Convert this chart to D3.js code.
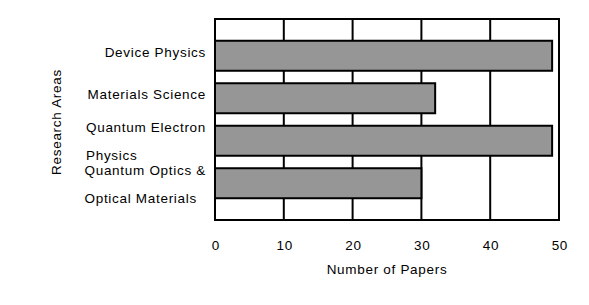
<!DOCTYPE html>
<html>
<head>
<meta charset="utf-8">
<script src="https://cdn.jsdelivr.net/npm/d3@7"></script>
<style>
  html, body { margin: 0; padding: 0; background: #fff; }
  text { font-family: "Liberation Sans", Arial, sans-serif; font-size: 13.5px; fill: #000; letter-spacing: 0.7px; }
</style>
</head>
<body>
<svg id="chart" width="589" height="305"></svg>
<script>
const categories = [
  ["Device Physics"],
  ["Materials Science"],
  ["Quantum Electron", "Physics"],
  ["Quantum Optics &", "Optical Materials"]
];
const values = [49, 32, 49, 30];
const xTicks = [0, 10, 20, 30, 40, 50];
const xTitle = "Number of Papers";
const yTitle = "Research Areas";

const svg = d3.select("#chart");
const plotLeft = 215, plotRight = 559, plotTop = 19, plotBottom = 220;

const x = d3.scaleLinear().domain([0, 50]).range([plotLeft, plotRight]);
const y = d3.scaleBand().domain(d3.range(categories.length)).range([plotTop, plotBottom])
  .paddingInner(0.294).paddingOuter(0.512);

// gridlines
svg.append("g").selectAll("line").data(xTicks.slice(1, -1)).join("line")
  .attr("x1", d => x(d)).attr("x2", d => x(d))
  .attr("y1", plotTop).attr("y2", plotBottom)
  .attr("stroke", "#000").attr("stroke-width", 2);

// frame
svg.append("rect").attr("x", plotLeft).attr("y", plotTop)
  .attr("width", plotRight - plotLeft).attr("height", plotBottom - plotTop)
  .attr("fill", "none").attr("stroke", "#000").attr("stroke-width", 2);

// bars
svg.append("g").selectAll("rect").data(values).join("rect")
  .attr("x", x(0)).attr("y", (d, i) => y(i))
  .attr("width", d => x(d) - x(0)).attr("height", y.bandwidth())
  .attr("fill", "#969696").attr("stroke", "#000").attr("stroke-width", 2);

// x axis tick labels
const xAxis = d3.axisBottom(x).tickValues(xTicks).tickSize(0).tickPadding(0).tickFormat(d3.format("d"));
const gx = svg.append("g").attr("transform", `translate(0,${plotBottom})`).call(xAxis);
gx.select(".domain").remove();
gx.selectAll("text").attr("dy", null).attr("y", 30)
  .attr("font-family", null).attr("font-size", null).attr("fill", "#000")
  .attr("dx", "0.35px");

// category labels
const labelRight = 205;
categories.forEach((lines, i) => {
  const cy = y(i) + y.bandwidth() / 2;
  if (lines.length === 1) {
    svg.append("text").attr("x", labelRight + 1).attr("y", cy + 1)
      .attr("text-anchor", "end").text(lines[0]);
  } else {
    const g = svg.append("g");
    const ts = lines.map((l, j) => g.append("text")
      .attr("y", j === 0 ? cy - 8.5 : cy + 19.5).text(l));
    const w = d3.max(ts, t => t.node().getComputedTextLength());
    ts.forEach(t => t.attr("x", labelRight + 1 - w));
  }
});

// axis titles
svg.append("text").attr("x", (plotLeft + plotRight) / 2).attr("y", 274)
  .attr("text-anchor", "middle").text(xTitle);
svg.append("text").attr("transform", `translate(61,122) rotate(-90)`)
  .attr("text-anchor", "middle").text(yTitle);
</script>
</body>
</html>
